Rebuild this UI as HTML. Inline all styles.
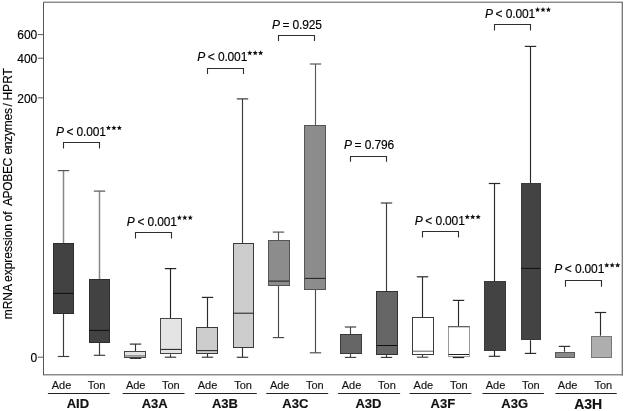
<!DOCTYPE html>
<html><head><meta charset="utf-8"><title>chart</title>
<style>
html,body{margin:0;padding:0;background:#fff;}
body{width:625px;height:411px;overflow:hidden;}
svg{display:block;font-family:"Liberation Sans",sans-serif;filter:grayscale(1);will-change:transform;}
text{stroke:#000;stroke-width:0.15px;}
</style></head><body>
<svg width="625" height="411" viewBox="0 0 625 411">
<rect x="0" y="0" width="625" height="411" fill="#ffffff"/>

<g fill="none">
<path d="M43.5 374.7 H622.9" stroke="#8e8e8e" stroke-width="1.5"/>
<path d="M622.3 2.2 V375.4" stroke="#6e6e6e" stroke-width="1.25"/>
<path d="M43.5 375.2 V2.2 H622.9" stroke="#555" stroke-width="1"/>
</g>
<g stroke="#5a5a5a" stroke-width="1">
<line x1="37.8" y1="34.6" x2="43.5" y2="34.6"/>
<line x1="37.8" y1="58.2" x2="43.5" y2="58.2"/>
<line x1="37.8" y1="97.9" x2="43.5" y2="97.9"/>
<line x1="37.8" y1="357.2" x2="43.5" y2="357.2"/>
</g>
<g font-size="12px" fill="#000" text-anchor="end">
<text x="37.3" y="39.4">600</text>
<text x="37.3" y="63.0">400</text>
<text x="37.3" y="102.7">200</text>
<text x="37.3" y="362.0">0</text>
</g>
<text transform="translate(11.6,319.3) rotate(-90)" font-size="12px" fill="#000" word-spacing="-0.75">mRNA expression of <tspan dx="2.8" letter-spacing="-0.35">APOBEC </tspan><tspan dx="1.3" letter-spacing="-0.25">enzymes</tspan><tspan dx="-0.85"> /</tspan><tspan dx="0.1"> HPRT</tspan></text>
<g fill="none">
<path d="M63.5 243.3 V170.6" stroke="#888" stroke-width="1.5"/>
<path d="M57.80 170.6 H69.20" stroke="#555" stroke-width="1.2"/>
<path d="M63.5 313.9 V356.5" stroke="#3a3a3a" stroke-width="1.15"/>
<path d="M57.80 356.5 H69.20" stroke="#3a3a3a" stroke-width="1.15"/>
<rect x="53.5" y="243.5" width="20.0" height="70.0" fill="#424242" stroke="#2e2e2e" stroke-width="1"/>
<line x1="53.20" y1="293.4" x2="73.60" y2="293.4" stroke="#111" stroke-width="1.05"/>
</g>
<g fill="none">
<path d="M99.5 279.2 V191.1" stroke="#888" stroke-width="1.5"/>
<path d="M93.80 191.1 H105.20" stroke="#555" stroke-width="1.2"/>
<path d="M99.5 342.6 V355.3" stroke="#3a3a3a" stroke-width="1.15"/>
<path d="M93.80 355.3 H105.20" stroke="#3a3a3a" stroke-width="1.15"/>
<rect x="89.5" y="279.5" width="20.0" height="63.0" fill="#424242" stroke="#2e2e2e" stroke-width="1"/>
<line x1="89.20" y1="330.4" x2="109.20" y2="330.4" stroke="#111" stroke-width="1.05"/>
</g>
<g fill="none">
<path d="M135.5 351.0 V344.1" stroke="#333" stroke-width="1.15"/>
<path d="M129.80 344.1 H141.20" stroke="#333" stroke-width="1.2"/>
<path d="M135.5 357.5 V358.0" stroke="#111" stroke-width="1.15"/>
<path d="M129.80 358.0 H141.20" stroke="#111" stroke-width="1.7"/>
<rect x="124.5" y="351.5" width="21.0" height="6.0" fill="#e2e2e2" stroke="#444" stroke-width="1"/>
<line x1="124.70" y1="355.9" x2="145.30" y2="355.9" stroke="#8a8a8a" stroke-width="1.5"/>
</g>
<g fill="none">
<path d="M170.5 318.4 V268.6" stroke="#222" stroke-width="1.15"/>
<path d="M164.80 268.6 H176.20" stroke="#222" stroke-width="1.2"/>
<path d="M170.5 354.3 V357.2" stroke="#333" stroke-width="1.15"/>
<path d="M164.80 357.2 H176.20" stroke="#333" stroke-width="1.15"/>
<rect x="160.5" y="318.5" width="21.0" height="35.0" fill="#e4e4e4" stroke="#444" stroke-width="1"/>
<line x1="160.80" y1="349.4" x2="181.00" y2="349.4" stroke="#222" stroke-width="1.05"/>
</g>
<g fill="none">
<path d="M207.5 327.4 V297.4" stroke="#2a2a2a" stroke-width="1.15"/>
<path d="M201.80 297.4 H213.20" stroke="#2a2a2a" stroke-width="1.2"/>
<path d="M207.5 353.7 V357.2" stroke="#333" stroke-width="1.15"/>
<path d="M201.80 357.2 H213.20" stroke="#333" stroke-width="1.15"/>
<rect x="196.5" y="327.5" width="21.0" height="26.0" fill="#cccccc" stroke="#3a3a3a" stroke-width="1"/>
<line x1="196.80" y1="350.6" x2="217.20" y2="350.6" stroke="#222" stroke-width="1.05"/>
</g>
<g fill="none">
<path d="M242.5 243.2 V98.9" stroke="#3a3a3a" stroke-width="1.15"/>
<path d="M236.80 98.9 H248.20" stroke="#3a3a3a" stroke-width="1.2"/>
<path d="M242.5 347.8 V357.3" stroke="#333" stroke-width="1.15"/>
<path d="M236.80 357.3 H248.20" stroke="#333" stroke-width="1.15"/>
<rect x="233.5" y="243.5" width="20.0" height="104.0" fill="#cccccc" stroke="#3a3a3a" stroke-width="1"/>
<line x1="233.00" y1="313.2" x2="253.20" y2="313.2" stroke="#222" stroke-width="1.05"/>
</g>
<g fill="none">
<path d="M278.5 240.5 V232.1" stroke="#555" stroke-width="1.15"/>
<path d="M272.80 232.1 H284.20" stroke="#555" stroke-width="1.2"/>
<path d="M278.5 285.6 V337.6" stroke="#4a4a4a" stroke-width="1.15"/>
<path d="M272.80 337.6 H284.20" stroke="#4a4a4a" stroke-width="1.15"/>
<rect x="268.5" y="240.5" width="21.0" height="45.0" fill="#8c8c8c" stroke="#555" stroke-width="1"/>
<line x1="268.80" y1="281.1" x2="289.00" y2="281.1" stroke="#222" stroke-width="1.05"/>
</g>
<g fill="none">
<path d="M315.5 125.5 V64.0" stroke="#5a5a5a" stroke-width="1.15"/>
<path d="M309.80 64.0 H321.20" stroke="#5a5a5a" stroke-width="1.2"/>
<path d="M315.5 289.5 V352.8" stroke="#4a4a4a" stroke-width="1.15"/>
<path d="M309.80 352.8 H321.20" stroke="#4a4a4a" stroke-width="1.15"/>
<rect x="304.5" y="125.5" width="21.0" height="164.0" fill="#8c8c8c" stroke="#555" stroke-width="1"/>
<line x1="304.90" y1="278.4" x2="325.30" y2="278.4" stroke="#222" stroke-width="1.05"/>
</g>
<g fill="none">
<path d="M350.5 334.2 V327.0" stroke="#444" stroke-width="1.15"/>
<path d="M344.80 327.0 H356.20" stroke="#444" stroke-width="1.2"/>
<path d="M350.5 353.7 V357.4" stroke="#444" stroke-width="1.15"/>
<path d="M344.80 357.4 H356.20" stroke="#444" stroke-width="1.15"/>
<rect x="340.5" y="334.5" width="21.0" height="19.0" fill="#666666" stroke="#3a3a3a" stroke-width="1"/>
</g>
<g fill="none">
<path d="M386.5 291.4 V203.0" stroke="#3a3a3a" stroke-width="1.15"/>
<path d="M380.80 203.0 H392.20" stroke="#3a3a3a" stroke-width="1.2"/>
<path d="M386.5 354.5 V357.4" stroke="#3a3a3a" stroke-width="1.15"/>
<path d="M380.80 357.4 H392.20" stroke="#3a3a3a" stroke-width="1.15"/>
<rect x="376.5" y="291.5" width="21.0" height="63.0" fill="#666666" stroke="#333" stroke-width="1"/>
<line x1="376.70" y1="345.5" x2="397.10" y2="345.5" stroke="#111" stroke-width="1.05"/>
</g>
<g fill="none">
<path d="M422.5 317.3 V276.8" stroke="#2a2a2a" stroke-width="1.15"/>
<path d="M416.80 276.8 H428.20" stroke="#2a2a2a" stroke-width="1.2"/>
<path d="M422.5 354.4 V357.2" stroke="#444" stroke-width="1.15"/>
<path d="M416.80 357.2 H428.20" stroke="#444" stroke-width="1.15"/>
<rect x="412.5" y="317.5" width="21.0" height="37.0" fill="#ffffff" stroke="#3a3a3a" stroke-width="1"/>
<line x1="412.70" y1="351.2" x2="433.10" y2="351.2" stroke="#666" stroke-width="1.05"/>
</g>
<g fill="none">
<path d="M458.5 326.5 V300.4" stroke="#2a2a2a" stroke-width="1.15"/>
<path d="M452.80 300.4 H464.20" stroke="#2a2a2a" stroke-width="1.2"/>
<path d="M458.5 356.6 V357.4" stroke="#222" stroke-width="1.15"/>
<path d="M452.80 357.4 H464.20" stroke="#222" stroke-width="1.4"/>
<rect x="448.5" y="326.5" width="21.0" height="30.0" fill="#ffffff" stroke="#9a9a9a" stroke-width="1"/>
<line x1="448.10" y1="326.80" x2="469.50" y2="326.80" stroke="#444" stroke-width="0.9"/>
<line x1="448.60" y1="354.5" x2="469.00" y2="354.5" stroke="#222" stroke-width="1.0"/>
</g>
<g fill="none">
<path d="M494.5 281.3 V183.5" stroke="#2a2a2a" stroke-width="1.15"/>
<path d="M488.80 183.5 H500.20" stroke="#2a2a2a" stroke-width="1.2"/>
<path d="M494.5 350.7 V356.3" stroke="#2a2a2a" stroke-width="1.15"/>
<path d="M488.80 356.3 H500.20" stroke="#2a2a2a" stroke-width="1.15"/>
<rect x="484.5" y="281.5" width="21.0" height="69.0" fill="#434343" stroke="#3a3a3a" stroke-width="1"/>
</g>
<g fill="none">
<path d="M530.5 183.5 V46.4" stroke="#2a2a2a" stroke-width="1.15"/>
<path d="M524.80 46.4 H536.20" stroke="#2a2a2a" stroke-width="1.2"/>
<path d="M530.5 340.3 V353.4" stroke="#2a2a2a" stroke-width="1.15"/>
<path d="M524.80 353.4 H536.20" stroke="#2a2a2a" stroke-width="1.15"/>
<rect x="521.5" y="183.5" width="19.0" height="156.0" fill="#434343" stroke="#3a3a3a" stroke-width="1"/>
<line x1="521.10" y1="268.4" x2="540.30" y2="268.4" stroke="#111" stroke-width="1.05"/>
</g>
<g fill="none">
<path d="M564.5 351.8 V346.4" stroke="#333" stroke-width="1.15"/>
<path d="M558.80 346.4 H570.20" stroke="#333" stroke-width="1.2"/>
<rect x="555.5" y="352.5" width="19.0" height="5.0" fill="#888888" stroke="#5a5a5a" stroke-width="1"/>
</g>
<g fill="none">
<path d="M600.5 335.7 V312.5" stroke="#2a2a2a" stroke-width="1.15"/>
<path d="M594.80 312.5 H606.20" stroke="#2a2a2a" stroke-width="1.2"/>
<path d="M600.5 357.6 V357.5" stroke="#333" stroke-width="1.15"/>
<path d="M594.80 357.5 H606.20" stroke="#333" stroke-width="1.0"/>
<rect x="591.5" y="336.5" width="20.0" height="21.0" fill="#aeaeae" stroke="#777" stroke-width="1"/>
</g>
<path d="M63.5 148.6 V142.5 H99.5 V148.6" fill="none" stroke="#2e2e2e" stroke-width="1.1"/>
<text y="135.7" font-size="12px" fill="#000"><tspan x="55.90" font-style="italic">P</tspan><tspan x="66.50"><</tspan><tspan x="76.58" letter-spacing="-0.15">0.001</tspan></text><polygon points="108.45,125.20 109.18,126.89 111.02,127.07 109.64,128.29 110.04,130.08 108.45,129.15 106.86,130.08 107.26,128.29 105.88,127.07 107.72,126.89" fill="#111"/><polygon points="113.90,125.20 114.63,126.89 116.47,127.07 115.09,128.29 115.49,130.08 113.90,129.15 112.31,130.08 112.71,128.29 111.33,127.07 113.17,126.89" fill="#111"/><polygon points="119.35,125.20 120.08,126.89 121.92,127.07 120.54,128.29 120.94,130.08 119.35,129.15 117.76,130.08 118.16,128.29 116.78,127.07 118.62,126.89" fill="#111"/>
<path d="M135.5 238.4 V232.5 H171.5 V238.4" fill="none" stroke="#2e2e2e" stroke-width="1.1"/>
<text y="225.5" font-size="12px" fill="#000"><tspan x="126.80" font-style="italic">P</tspan><tspan x="137.40"><</tspan><tspan x="147.48" letter-spacing="-0.15">0.001</tspan></text><polygon points="179.35,215.00 180.08,216.69 181.92,216.87 180.54,218.09 180.94,219.88 179.35,218.95 177.76,219.88 178.16,218.09 176.78,216.87 178.62,216.69" fill="#111"/><polygon points="184.80,215.00 185.53,216.69 187.37,216.87 185.99,218.09 186.39,219.88 184.80,218.95 183.21,219.88 183.61,218.09 182.23,216.87 184.07,216.69" fill="#111"/><polygon points="190.25,215.00 190.98,216.69 192.82,216.87 191.44,218.09 191.84,219.88 190.25,218.95 188.66,219.88 189.06,218.09 187.68,216.87 189.52,216.69" fill="#111"/>
<path d="M207.5 74.0 V68.5 H243.5 V74.0" fill="none" stroke="#2e2e2e" stroke-width="1.1"/>
<text y="60.8" font-size="12px" fill="#000"><tspan x="197.20" font-style="italic">P</tspan><tspan x="207.80"><</tspan><tspan x="217.88" letter-spacing="-0.15">0.001</tspan></text><polygon points="249.75,50.30 250.48,51.99 252.32,52.17 250.94,53.39 251.34,55.18 249.75,54.25 248.16,55.18 248.56,53.39 247.18,52.17 249.02,51.99" fill="#111"/><polygon points="255.20,50.30 255.93,51.99 257.77,52.17 256.39,53.39 256.79,55.18 255.20,54.25 253.61,55.18 254.01,53.39 252.63,52.17 254.47,51.99" fill="#111"/><polygon points="260.65,50.30 261.38,51.99 263.22,52.17 261.84,53.39 262.24,55.18 260.65,54.25 259.06,55.18 259.46,53.39 258.08,52.17 259.92,51.99" fill="#111"/>
<path d="M278.5 41.1 V35.5 H314.5 V41.1" fill="none" stroke="#2e2e2e" stroke-width="1.1"/>
<text y="28.8" font-size="12px" fill="#000"><tspan x="271.90" font-style="italic">P</tspan><tspan x="282.50">=</tspan><tspan x="292.58" letter-spacing="-0.15">0.925</tspan></text>
<path d="M350.5 161.7 V156.5 H386.5 V161.7" fill="none" stroke="#2e2e2e" stroke-width="1.1"/>
<text y="149.0" font-size="12px" fill="#000"><tspan x="344.00" font-style="italic">P</tspan><tspan x="354.60">=</tspan><tspan x="364.68" letter-spacing="-0.15">0.796</tspan></text>
<path d="M422.5 237.6 V231.5 H458.5 V237.6" fill="none" stroke="#2e2e2e" stroke-width="1.1"/>
<text y="224.8" font-size="12px" fill="#000"><tspan x="414.70" font-style="italic">P</tspan><tspan x="425.30"><</tspan><tspan x="435.38" letter-spacing="-0.15">0.001</tspan></text><polygon points="467.25,214.30 467.98,215.99 469.82,216.17 468.44,217.39 468.84,219.18 467.25,218.25 465.66,219.18 466.06,217.39 464.68,216.17 466.52,215.99" fill="#111"/><polygon points="472.70,214.30 473.43,215.99 475.27,216.17 473.89,217.39 474.29,219.18 472.70,218.25 471.11,219.18 471.51,217.39 470.13,216.17 471.97,215.99" fill="#111"/><polygon points="478.15,214.30 478.88,215.99 480.72,216.17 479.34,217.39 479.74,219.18 478.15,218.25 476.56,219.18 476.96,217.39 475.58,216.17 477.42,215.99" fill="#111"/>
<path d="M494.5 30.6 V24.5 H530.5 V30.6" fill="none" stroke="#2e2e2e" stroke-width="1.1"/>
<text y="17.5" font-size="12px" fill="#000"><tspan x="485.00" font-style="italic">P</tspan><tspan x="495.60"><</tspan><tspan x="505.68" letter-spacing="-0.15">0.001</tspan></text><polygon points="537.55,7.00 538.28,8.69 540.12,8.87 538.74,10.09 539.14,11.88 537.55,10.95 535.96,11.88 536.36,10.09 534.98,8.87 536.82,8.69" fill="#111"/><polygon points="543.00,7.00 543.73,8.69 545.57,8.87 544.19,10.09 544.59,11.88 543.00,10.95 541.41,11.88 541.81,10.09 540.43,8.87 542.27,8.69" fill="#111"/><polygon points="548.45,7.00 549.18,8.69 551.02,8.87 549.64,10.09 550.04,11.88 548.45,10.95 546.86,11.88 547.26,10.09 545.88,8.87 547.72,8.69" fill="#111"/>
<path d="M565.5 286.8 V280.5 H601.5 V286.8" fill="none" stroke="#2e2e2e" stroke-width="1.1"/>
<text y="273.1" font-size="12px" fill="#000"><tspan x="554.20" font-style="italic">P</tspan><tspan x="564.80"><</tspan><tspan x="574.88" letter-spacing="-0.15">0.001</tspan></text><polygon points="606.75,262.60 607.48,264.29 609.32,264.47 607.94,265.69 608.34,267.48 606.75,266.55 605.16,267.48 605.56,265.69 604.18,264.47 606.02,264.29" fill="#111"/><polygon points="612.20,262.60 612.93,264.29 614.77,264.47 613.39,265.69 613.79,267.48 612.20,266.55 610.61,267.48 611.01,265.69 609.63,264.47 611.47,264.29" fill="#111"/><polygon points="617.65,262.60 618.38,264.29 620.22,264.47 618.84,265.69 619.24,267.48 617.65,266.55 616.06,267.48 616.46,265.69 615.08,264.47 616.92,264.29" fill="#111"/>
<line x1="47.9" y1="393.5" x2="109.7" y2="393.5" stroke="#222" stroke-width="1.2"/>
<text x="61.5" y="388.8" font-size="11px" fill="#1a1a1a" text-anchor="middle">Ade</text>
<text x="96.55" y="388.8" font-size="11px" fill="#1a1a1a" text-anchor="middle">Ton</text>
<text x="77.85" y="407.6" font-size="13px" font-weight="bold" fill="#111" text-anchor="middle">AID</text>
<line x1="122.7" y1="393.5" x2="184.5" y2="393.5" stroke="#222" stroke-width="1.2"/>
<text x="135.7" y="388.8" font-size="11px" fill="#1a1a1a" text-anchor="middle">Ade</text>
<text x="170.75" y="388.8" font-size="11px" fill="#1a1a1a" text-anchor="middle">Ton</text>
<text x="154.75" y="407.6" font-size="13px" font-weight="bold" fill="#111" text-anchor="middle">A3A</text>
<line x1="195.0" y1="393.5" x2="256.8" y2="393.5" stroke="#222" stroke-width="1.2"/>
<text x="207.5" y="388.8" font-size="11px" fill="#1a1a1a" text-anchor="middle">Ade</text>
<text x="243.05" y="388.8" font-size="11px" fill="#1a1a1a" text-anchor="middle">Ton</text>
<text x="224.95" y="407.6" font-size="13px" font-weight="bold" fill="#111" text-anchor="middle">A3B</text>
<line x1="266.3" y1="393.5" x2="328.2" y2="393.5" stroke="#222" stroke-width="1.2"/>
<text x="279.7" y="388.8" font-size="11px" fill="#1a1a1a" text-anchor="middle">Ade</text>
<text x="314.85" y="388.8" font-size="11px" fill="#1a1a1a" text-anchor="middle">Ton</text>
<text x="295.35" y="407.6" font-size="13px" font-weight="bold" fill="#111" text-anchor="middle">A3C</text>
<line x1="338.1" y1="393.5" x2="400.1" y2="393.5" stroke="#222" stroke-width="1.2"/>
<text x="351.5" y="388.8" font-size="11px" fill="#1a1a1a" text-anchor="middle">Ade</text>
<text x="386.95" y="388.8" font-size="11px" fill="#1a1a1a" text-anchor="middle">Ton</text>
<text x="368.4" y="407.6" font-size="13px" font-weight="bold" fill="#111" text-anchor="middle">A3D</text>
<line x1="409.6" y1="393.5" x2="471.4" y2="393.5" stroke="#222" stroke-width="1.2"/>
<text x="423.4" y="388.8" font-size="11px" fill="#1a1a1a" text-anchor="middle">Ade</text>
<text x="458.85" y="388.8" font-size="11px" fill="#1a1a1a" text-anchor="middle">Ton</text>
<text x="442.9" y="407.6" font-size="13px" font-weight="bold" fill="#111" text-anchor="middle">A3F</text>
<line x1="482.5" y1="393.5" x2="543.9" y2="393.5" stroke="#222" stroke-width="1.2"/>
<text x="495.5" y="388.8" font-size="11px" fill="#1a1a1a" text-anchor="middle">Ade</text>
<text x="530.75" y="388.8" font-size="11px" fill="#1a1a1a" text-anchor="middle">Ton</text>
<text x="514.65" y="407.6" font-size="13px" font-weight="bold" fill="#111" text-anchor="middle">A3G</text>
<line x1="555.4" y1="393.5" x2="616.7" y2="393.5" stroke="#222" stroke-width="1.2"/>
<text x="567.6" y="388.8" font-size="11px" fill="#1a1a1a" text-anchor="middle">Ade</text>
<text x="603.3" y="388.8" font-size="11px" fill="#1a1a1a" text-anchor="middle">Ton</text>
<text x="588.2" y="408.5" font-size="14px" font-weight="bold" fill="#111" text-anchor="middle">A3H</text>
</svg></body></html>
